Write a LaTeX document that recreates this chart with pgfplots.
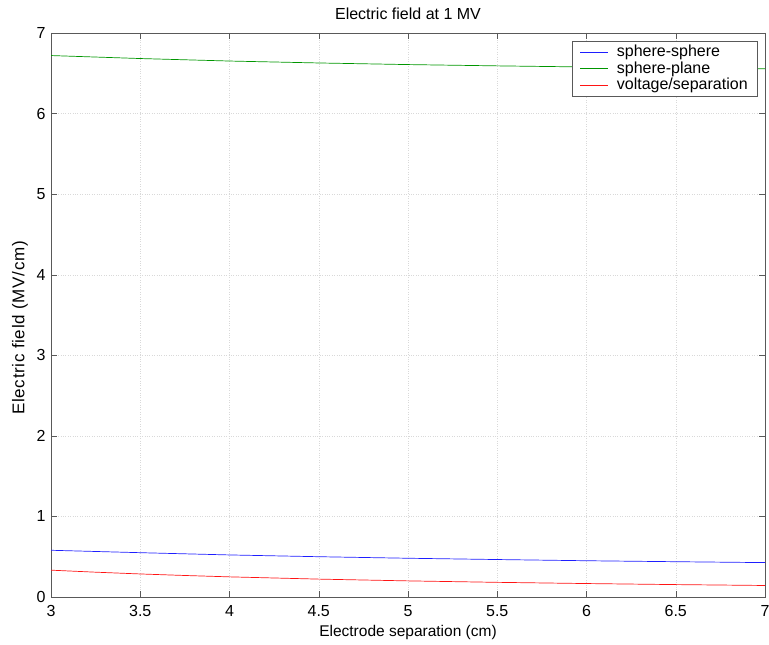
\documentclass[border=0pt]{standalone}
\usepackage{fontspec}
\setmainfont{Liberation Sans}
\newfontfamily\ylabfont{Liberation Sans}[LetterSpace=4]
\usepackage{pgfplots}
\pgfplotsset{compat=1.18}
\definecolor{mblue}{RGB}{30,30,255}
\definecolor{mgreen}{RGB}{0,150,0}
\definecolor{mred}{RGB}{255,20,20}

\begin{document}
\fontsize{16pt}{18pt}\selectfont
\begin{tikzpicture}
\begin{axis}[
  width=714pt, height=564pt,
  scale only axis,
  xmin=3, xmax=7, ymin=0, ymax=7,
  xtick={3,3.5,...,7},
  ytick={0,1,...,7},
  tick align=inside,
  tick pos=both,
  major tick length=6pt,
  xmajorgrids, ymajorgrids,
  grid style={dotted, gray!30},
  axis line style={black!65},
  tick style={black!65},
  /pgf/number format/assume math mode=true,
  tick label style={font=\fontsize{16pt}{18pt}\selectfont},
  xticklabel style={yshift=-3pt},
  every axis title/.style={at={(axis description cs:0.5,1)}, yshift=19pt,
    anchor=center, font=\fontsize{16pt}{18pt}\selectfont},
  every axis x label/.style={at={(axis description cs:0.5,0)}, yshift=-35pt,
    anchor=center, font=\fontsize{15.5pt}{18pt}\selectfont},
  every axis y label/.style={at={(axis description cs:0,0.5)}, xshift=-31pt,
    yshift=-13pt, rotate=90, anchor=center,
    font=\ylabfont\fontsize{17pt}{19pt}\selectfont},
  title={Electric field at 1 MV},
  xlabel={Electrode separation (cm)},
  ylabel={Electric field (MV/cm)},
  legend style={at={(0.99,0.986)}, anchor=north east,
    draw=black!65, fill=white, font=\fontsize{16pt}{18pt}\selectfont,
    inner xsep=8pt, inner ysep=2pt, row sep=-1.5pt,
    /tikz/every odd column/.append style={column sep=6pt}},
  legend cell align=left,
  legend image code/.code={
    \draw[#1, line width=1pt] (0pt,0pt) -- (28pt,0pt);},
]
% sphere-sphere
\addplot[mblue, line width=0.7pt] coordinates {
  (3.0,0.580)(3.5,0.550)(4.0,0.522)(4.5,0.500)(5.0,0.481)
  (5.5,0.465)(6.0,0.450)(6.5,0.438)(7.0,0.427)};
% sphere-plane
\addplot[mgreen, line width=0.7pt] coordinates {
  (3.0,6.720)(3.5,6.683)(4.0,6.652)(4.5,6.628)(5.0,6.608)
  (5.5,6.592)(6.0,6.578)(6.5,6.566)(7.0,6.556)};
% voltage/separation
\addplot[mred, line width=0.7pt] coordinates {
  (3.0,0.333)(3.25,0.308)(3.5,0.286)(3.75,0.267)(4.0,0.250)
  (4.5,0.222)(5.0,0.200)(5.5,0.182)(6.0,0.167)(6.5,0.154)(7.0,0.143)};
\legend{sphere-sphere, sphere-plane, voltage/separation}
\end{axis}
\pgfresetboundingbox
\path ([shift={(-51pt,-47pt)}]current axis.south west) rectangle
      ([shift={(4pt,33pt)}]current axis.north east);
\end{tikzpicture}
\end{document}
